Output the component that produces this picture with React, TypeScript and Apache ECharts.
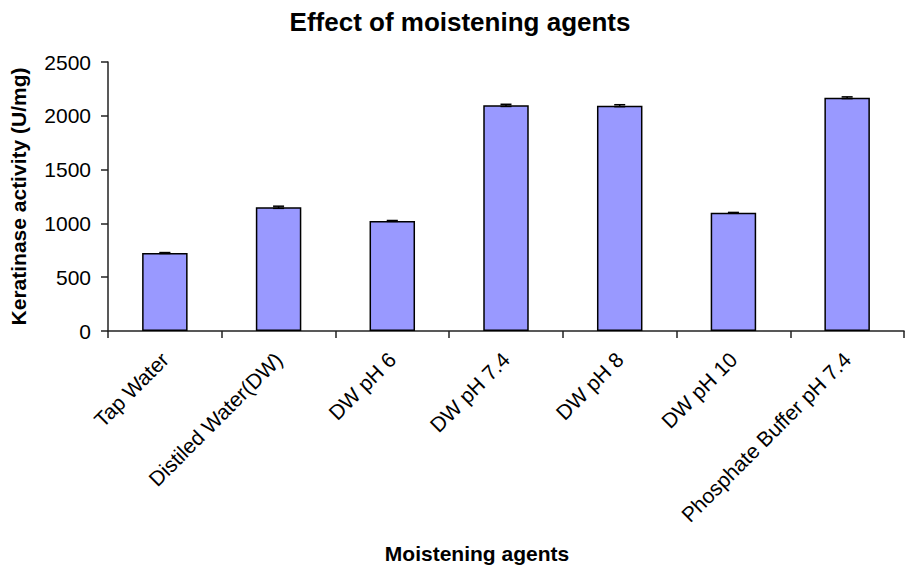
import React, { useEffect, useRef } from "react";
import * as echarts from "echarts";

const categories = [
  "Tap Water",
  "Distiled Water(DW)",
  "DW pH 6",
  "DW pH 7.4",
  "DW pH 8",
  "DW pH 10",
  "Phosphate Buffer pH 7.4",
];
const activity = [725, 1150, 1023, 2097, 2094, 1098, 2168];
const errors = [4, 10, 4, 10, 9, 4, 8];
const yTicks = [0, 500, 1000, 1500, 2000, 2500];

const FONT = "'Liberation Sans', Arial, Helvetica, sans-serif";

export default function App() {
  const ref = useRef<HTMLDivElement>(null);
  useEffect(() => {
    if (!ref.current) return;
    const chart = echarts.init(ref.current, null, { renderer: "svg" });
    const errData = activity.map((v, i) => [i, v - errors[i], v + errors[i]]);
    chart.setOption({
      animation: false,
      backgroundColor: "#fff",
      textStyle: { fontFamily: FONT },
      title: {
        text: "Effect of moistening agents",
        left: 455,
        textAlign: "center",
        top: 4,
        textStyle: { fontFamily: FONT, fontSize: 26, fontWeight: "bold", color: "#000" },
      },
      grid: {
        left: 108,
        right: 1,
        top: 62,
        bottom: 235,
        containLabel: false,
        outerBoundsMode: "none",
      },
      xAxis: {
        type: "category",
        data: categories,
        name: "Moistening agents",
        nameLocation: "middle",
        nameGap: 212,
        nameTextStyle: {
          fontFamily: FONT,
          fontSize: 21,
          fontWeight: "bold",
          color: "#000",
          padding: [0, 58, 0, 0],
        },
        axisLine: { lineStyle: { color: "#222", width: 1.5 } },
        axisTick: { show: true, length: 7, interval: 0, lineStyle: { color: "#222", width: 1.5 } },
        axisLabel: {
          interval: 0,
          rotate: 45,
          margin: 25,
          fontFamily: FONT,
          fontSize: 21,
          color: "#000",
        },
      },
      yAxis: {
        type: "value",
        min: 0,
        max: 2500,
        interval: 500,
        name: "Keratinase activity (U/mg)",
        nameLocation: "middle",
        nameGap: 79,
        nameTextStyle: { fontFamily: FONT, fontSize: 21, fontWeight: "bold", color: "#000" },
        splitLine: { show: false },
        axisLine: { show: true, lineStyle: { color: "#222", width: 1.5 } },
        axisTick: { show: true, length: 7, lineStyle: { color: "#222", width: 1.5 } },
        axisLabel: {
          margin: 17,
          fontFamily: FONT,
          fontSize: 21,
          color: "#000",
          formatter: (v: number) => (yTicks.includes(v) ? String(v) : ""),
        },
      },
      series: [
        {
          type: "bar",
          data: activity,
          barWidth: "40%",
          itemStyle: { color: "#9999FF", borderColor: "#000", borderWidth: 1.5 },
        },
        {
          type: "custom",
          data: errData,
          z: 10,
          renderItem: (params: any, api: any) => {
            const x = api.value(0);
            const lo = api.coord([x, api.value(1)]);
            const hi = api.coord([x, api.value(2)]);
            const hw = 5.5;
            const style = { stroke: "#000", lineWidth: 1.5 };
            return {
              type: "group",
              children: [
                { type: "line", shape: { x1: lo[0], y1: lo[1], x2: hi[0], y2: hi[1] }, style },
                { type: "line", shape: { x1: hi[0] - hw, y1: hi[1], x2: hi[0] + hw, y2: hi[1] }, style },
                { type: "line", shape: { x1: lo[0] - hw, y1: lo[1], x2: lo[0] + hw, y2: lo[1] }, style },
              ],
            };
          },
        },
      ],
    });
    return () => chart.dispose();
  }, []);
  return <div ref={ref} style={{ width: 905, height: 566, position: "absolute", left: 0, top: 0 }} />;
}
